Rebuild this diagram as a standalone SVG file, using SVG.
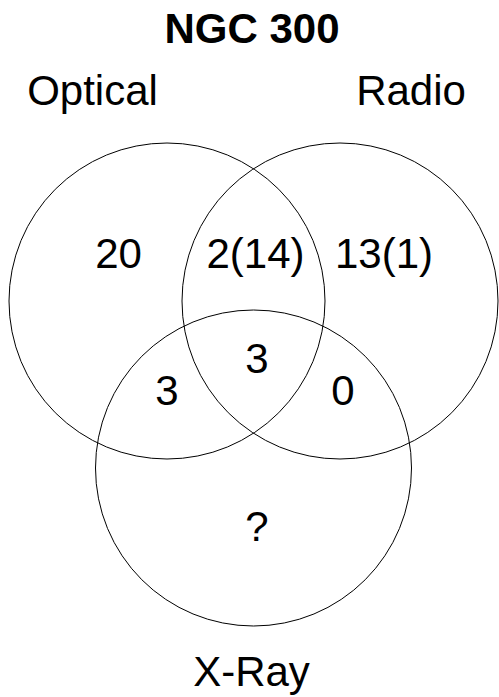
<svg xmlns="http://www.w3.org/2000/svg" width="499" height="697" viewBox="0 0 499 697">
  <style>
    .set { fill: none; stroke: #000; stroke-width: 1; }
    text { font-family: "Liberation Sans", Arial, sans-serif; font-size: 42px; fill: #000; text-anchor: middle; }
    .title { font-weight: bold; }
  </style>
  <rect width="499" height="697" fill="#fff"/>
  <text class="title" x="252" y="43">NGC 300</text>

  <!-- set circles with their labels -->
  <g id="optical">
    <circle class="set" cx="167" cy="301" r="158"/>
    <text x="92.5" y="105">Optical</text>
  </g>
  <g id="radio">
    <circle class="set" cx="340" cy="301" r="158"/>
    <text x="411" y="105">Radio</text>
  </g>
  <g id="xray">
    <circle class="set" cx="253.5" cy="468" r="158"/>
    <text x="251.5" y="686">X-Ray</text>
  </g>

  <!-- region counts -->
  <g id="counts">
    <text x="118.5" y="268">20</text>
    <text x="255.5" y="268">2(14)</text>
    <text x="384" y="268">13(1)</text>
    <text x="257" y="373">3</text>
    <text x="167" y="405">3</text>
    <text x="343" y="405">0</text>
    <text x="257" y="541">?</text>
  </g>
  <g id="connectors"/>
</svg>
